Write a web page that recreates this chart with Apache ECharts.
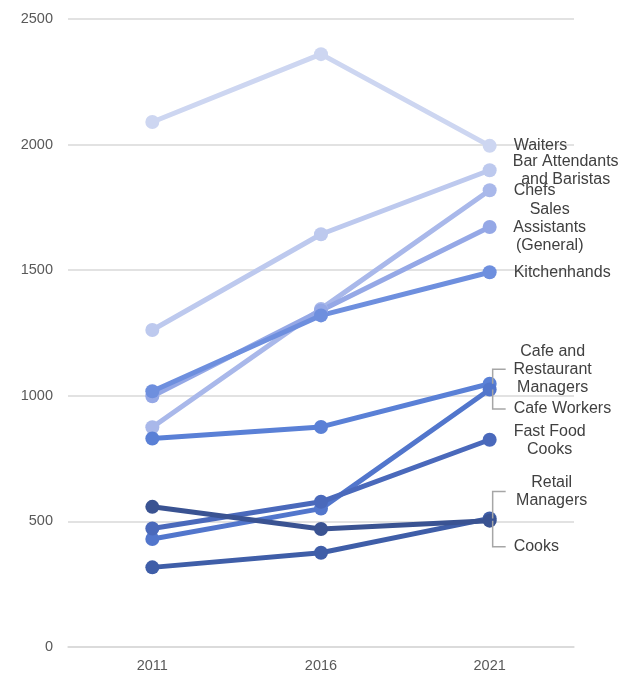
<!DOCTYPE html>
<html>
<head>
<meta charset="utf-8">
<script src="https://cdn.jsdelivr.net/npm/echarts@6/dist/echarts.min.js"></script>
<style>
  html, body { margin: 0; padding: 0; background: #ffffff; }
  #chart { width: 620px; height: 676px; }
</style>
</head>
<body>
<div id="chart"></div>
<script>
// Census years on the category axis
const years = ['2011', '2016', '2021'];
const yTicks = [0, 500, 1000, 1500, 2000, 2500];

// Occupation names as printed at the line ends
const occupations = [
  'Waiters',
  'Bar Attendants\nand Baristas',
  'Chefs',
  'Sales\nAssistants\n(General)',
  'Kitchenhands',
  'Cafe and\nRestaurant\nManagers',
  'Cafe Workers',
  'Fast Food\nCooks',
  'Retail\nManagers',
  'Cooks'
];

// Headcount per census year
const waiters = [2090, 2360, 1995];
const barAttendants = [1262, 1643, 1898];
const chefs = [875, 1346, 1818];
const salesAssistants = [998, 1340, 1672];
const kitchenhands = [1018, 1320, 1492];
const cafeRestaurantManagers = [830, 876, 1048];
const cafeWorkers = [430, 551, 1025];
const fastFoodCooks = [472, 578, 825];
const retailManagers = [317, 375, 512];
const cooks = [558, 470, 503];

const seriesValues = [waiters, barAttendants, chefs, salesAssistants, kitchenhands,
  cafeRestaurantManagers, cafeWorkers, fastFoodCooks, retailManagers, cooks];

// Line colours, light to dark
const palette = ['#cdd6f1', '#bdc9ee', '#a9b8ea', '#95a8e6', '#6e8fde',
  '#5a80d6', '#5276cc', '#4a69bb', '#3f5ea8', '#3a5392'];

// End-label placement: [dx, dy, align, leader]
const endLabelPlacement = [
  [17, 0, 'left', false],
  [69, 0, 'center', false],
  [17, 0, 'left', false],
  [53, 1, 'center', false],
  [17, 0, 'left', false],
  [56, -14.5, 'center', true],
  [17, 19.5, 'left', true],
  [53, 1, 'center', false],
  [55, -27, 'center', true],
  [17, 26, 'left', true]
];

const SYMBOL = 14;
const FONT = '"Liberation Sans", Arial, sans-serif';

const series = occupations.map((name, i) => {
  const vals = seriesValues[i];
  const [dx, dy, align] = endLabelPlacement[i];
  const data = vals.map((v, j) => {
    if (j !== vals.length - 1) return v;
    return {
      value: v,
      label: {
        show: true,
        position: 'right',
        distance: 0,
        offset: [dx, dy],
        align: align,
        verticalAlign: 'middle',
        formatter: name,
        color: '#404040',
        fontSize: 16,
        lineHeight: 18,
        fontFamily: FONT
      }
    };
  });
  return {
    name: name,
    type: 'line',
    data: data,
    symbol: 'circle',
    symbolSize: SYMBOL,
    showSymbol: true,
    lineStyle: { width: 5, color: palette[i] },
    itemStyle: { color: palette[i] },
    emphasis: { disabled: true },
    label: { show: false }
  };
});

const chart = echarts.init(document.getElementById('chart'), null, { renderer: 'canvas' });

chart.setOption({
  animation: false,
  backgroundColor: '#ffffff',
  grid: { left: 68, right: 46, top: 19, bottom: 29, containLabel: false },
  xAxis: {
    type: 'category',
    data: years,
    boundaryGap: true,
    axisLine: { show: true, lineStyle: { color: '#d9d9d9', width: 1.5 } },
    axisTick: { show: false },
    axisLabel: { color: '#595959', fontSize: 14.5, fontFamily: FONT, margin: 11 }
  },
  yAxis: {
    type: 'value',
    min: yTicks[0],
    max: yTicks[yTicks.length - 1],
    interval: yTicks[1] - yTicks[0],
    axisLine: { show: false },
    axisTick: { show: false },
    splitLine: { lineStyle: { color: '#d9d9d9', width: 1.5 } },
    axisLabel: {
      color: '#595959', fontSize: 14.5, fontFamily: FONT, margin: 15,
      formatter: (v) => String(v)
    }
  },
  series: series
});

// Leader lines from the crowded end points to their labels
const leaders = [];
occupations.forEach((name, i) => {
  const [, dy, , leader] = endLabelPlacement[i];
  if (!leader) return;
  const vals = seriesValues[i];
  const last = vals.length - 1;
  const p = chart.convertToPixel({ gridIndex: 0 }, [last, vals[last]]);
  const x0 = p[0] + 3;
  const yl = p[1] + dy;
  leaders.push({
    type: 'polyline',
    z: 100,
    shape: { points: [[x0, p[1]], [x0, yl], [x0 + 13, yl]] },
    style: { stroke: '#a6a6a6', lineWidth: 1.5, fill: null }
  });
});
chart.setOption({ graphic: leaders });
</script>
</body>
</html>
